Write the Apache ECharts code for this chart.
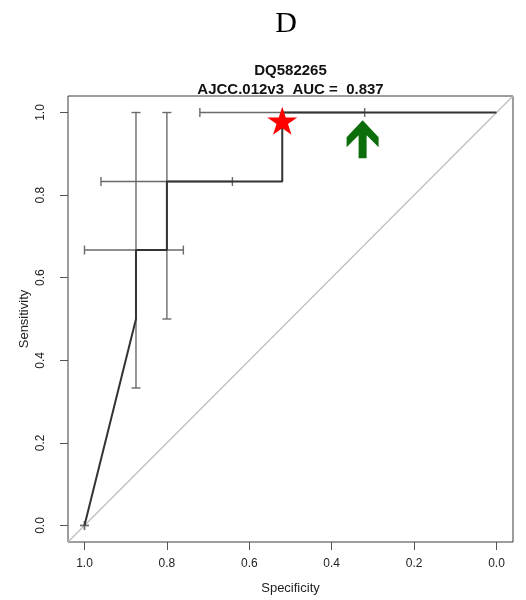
<!DOCTYPE html>
<html>
<head>
<meta charset="utf-8">
<script src="https://cdn.jsdelivr.net/npm/echarts@6/dist/echarts.min.js"></script>
<style>
  html, body { margin: 0; padding: 0; background: #fff; }
  #chart { width: 526px; height: 600px; }
</style>
</head>
<body>
<div id="chart"></div>
<script>
// ROC curve (specificity, sensitivity) for DQ582265
const rocSpec = [1.0, 0.875, 0.875, 0.8, 0.8, 0.52, 0.52, 0.0];
const rocSens = [0.0, 0.5, 0.667, 0.667, 0.833, 0.833, 1.0, 1.0];

// Sensitivity confidence intervals, drawn vertically at a given specificity
const sensCiAt = [1.0, 0.875, 0.8];
const sensCiLow = [0.0, 0.333, 0.5];
const sensCiHigh = [0.0, 1.0, 1.0];

// Specificity confidence intervals, drawn horizontally at a given sensitivity
const specCiAt = [0.0, 0.667, 0.833, 1.0];
const specCiLow = [1.0, 1.0, 0.96, 0.72];
const specCiHigh = [1.0, 0.76, 0.641, 0.32];

// Highlighted points
const starPoint = [0.52, 0.98];
const arrowPoint = [0.325, 0.935];

const tickValues = [0, 0.2, 0.4, 0.6, 0.8, 1.0];
const chanceLine = [[1.04, -0.04], [-0.04, 1.04]];

const panelLabel = 'D';
const titleLines = ['DQ582265', 'AJCC.012v3  AUC =  0.837'];

const FONT = '"Liberation Sans", Arial, Helvetica, sans-serif';

const starPath = (function () {
  const pts = [];
  for (let i = 0; i < 10; i++) {
    const r = i % 2 === 0 ? 50 : 19.1;
    const a = -Math.PI / 2 + i * Math.PI / 5;
    pts.push((50 + r * Math.cos(a)).toFixed(2) + ' ' + (50 + r * Math.sin(a)).toFixed(2));
  }
  return 'path://M' + pts.join(' L') + ' Z';
})();

const arrowPath = 'path://M16 0 L32 17 L32 27 L20 15 L20 38 L12 38 L12 15 L0 27 L0 17 Z';

const chart = echarts.init(document.getElementById('chart'));

function ciRenderer(vertical) {
  return function (params, api) {
    const at = api.value(0), lo = api.value(1), hi = api.value(2);
    const p1 = vertical ? api.coord([at, lo]) : api.coord([lo, at]);
    const p2 = vertical ? api.coord([at, hi]) : api.coord([hi, at]);
    const c = 4.5;
    const style = { stroke: '#6a6a6a', lineWidth: 1.4, fill: null };
    const cap = (p) => vertical
      ? { type: 'line', shape: { x1: p[0] - c, y1: p[1], x2: p[0] + c, y2: p[1] }, style }
      : { type: 'line', shape: { x1: p[0], y1: p[1] - c, x2: p[0], y2: p[1] + c }, style };
    return {
      type: 'group',
      children: [
        { type: 'line', shape: { x1: p1[0], y1: p1[1], x2: p2[0], y2: p2[1] }, style },
        cap(p1), cap(p2)
      ]
    };
  };
}

const axisCommon = {
  type: 'value',
  min: -0.04,
  max: 1.04,
  splitLine: { show: false },
  axisLine: { show: false, onZero: false },
  axisTick: { show: true, length: 8, inside: false, customValues: tickValues, lineStyle: { color: '#555', width: 1 } },
  nameLocation: 'middle',
  nameMoveOverlap: false,
  nameTextStyle: { fontFamily: FONT, fontSize: 13, color: '#222' }
};

const gridLeft = 68, gridRight = 13, gridTop = 96;
const plotCenterX = gridLeft + (526 - gridLeft - gridRight) / 2;

chart.setOption({
  animation: false,
  backgroundColor: '#fff',
  graphic: [
    {
      type: 'text', x: 286, y: 24,
      style: {
        text: panelLabel, textAlign: 'center', textVerticalAlign: 'middle',
        font: 'normal 30px "Liberation Serif", "Times New Roman", serif', fill: '#000'
      }
    },
    {
      type: 'text', x: plotCenterX, y: 71,
      style: {
        text: titleLines[0], textAlign: 'center', textVerticalAlign: 'middle',
        font: 'bold 15px ' + FONT, fill: '#111'
      }
    },
    {
      type: 'text', x: plotCenterX, y: 90,
      style: {
        text: titleLines[1], textAlign: 'center', textVerticalAlign: 'middle',
        font: 'bold 15px ' + FONT, fill: '#111'
      }
    }
  ],
  grid: {
    left: gridLeft, right: gridRight, top: gridTop, bottom: 58,
    show: true, borderColor: '#3a3a3a', borderWidth: 1, backgroundColor: 'transparent'
  },
  xAxis: Object.assign({}, axisCommon, {
    inverse: true,
    name: 'Specificity',
    nameGap: 40,
    axisLabel: {
      customValues: tickValues, margin: 16, fontFamily: FONT, fontSize: 12, color: '#222',
      formatter: v => v.toFixed(1)
    }
  }),
  yAxis: Object.assign({}, axisCommon, {
    name: 'Sensitivity',
    nameGap: 37,
    axisLabel: {
      customValues: tickValues, rotate: 90, margin: 21, fontFamily: FONT, fontSize: 12, color: '#222',
      formatter: v => v.toFixed(1)
    }
  }),
  series: [
    {
      type: 'line',
      data: chanceLine,
      symbol: 'none',
      lineStyle: { color: '#bdbdbd', width: 1.2 },
      z: 1
    },
    {
      type: 'custom',
      renderItem: ciRenderer(true),
      data: sensCiAt.map((s, i) => [s, sensCiLow[i], sensCiHigh[i]]),
      z: 2
    },
    {
      type: 'custom',
      renderItem: ciRenderer(false),
      data: specCiAt.map((s, i) => [s, specCiLow[i], specCiHigh[i]]),
      z: 2
    },
    {
      type: 'line',
      data: rocSpec.map((s, i) => [s, rocSens[i]]),
      symbol: 'none',
      lineStyle: { color: '#333', width: 2 },
      z: 3
    },
    {
      type: 'scatter',
      data: [starPoint],
      symbol: starPath,
      symbolSize: [30, 28],
      itemStyle: { color: '#ff0000', opacity: 1 },
      z: 5
    },
    {
      type: 'scatter',
      data: [arrowPoint],
      symbol: arrowPath,
      symbolSize: [32, 38],
      itemStyle: { color: '#0b6e0b', opacity: 1 },
      z: 5
    }
  ]
});
</script>
</body>
</html>
